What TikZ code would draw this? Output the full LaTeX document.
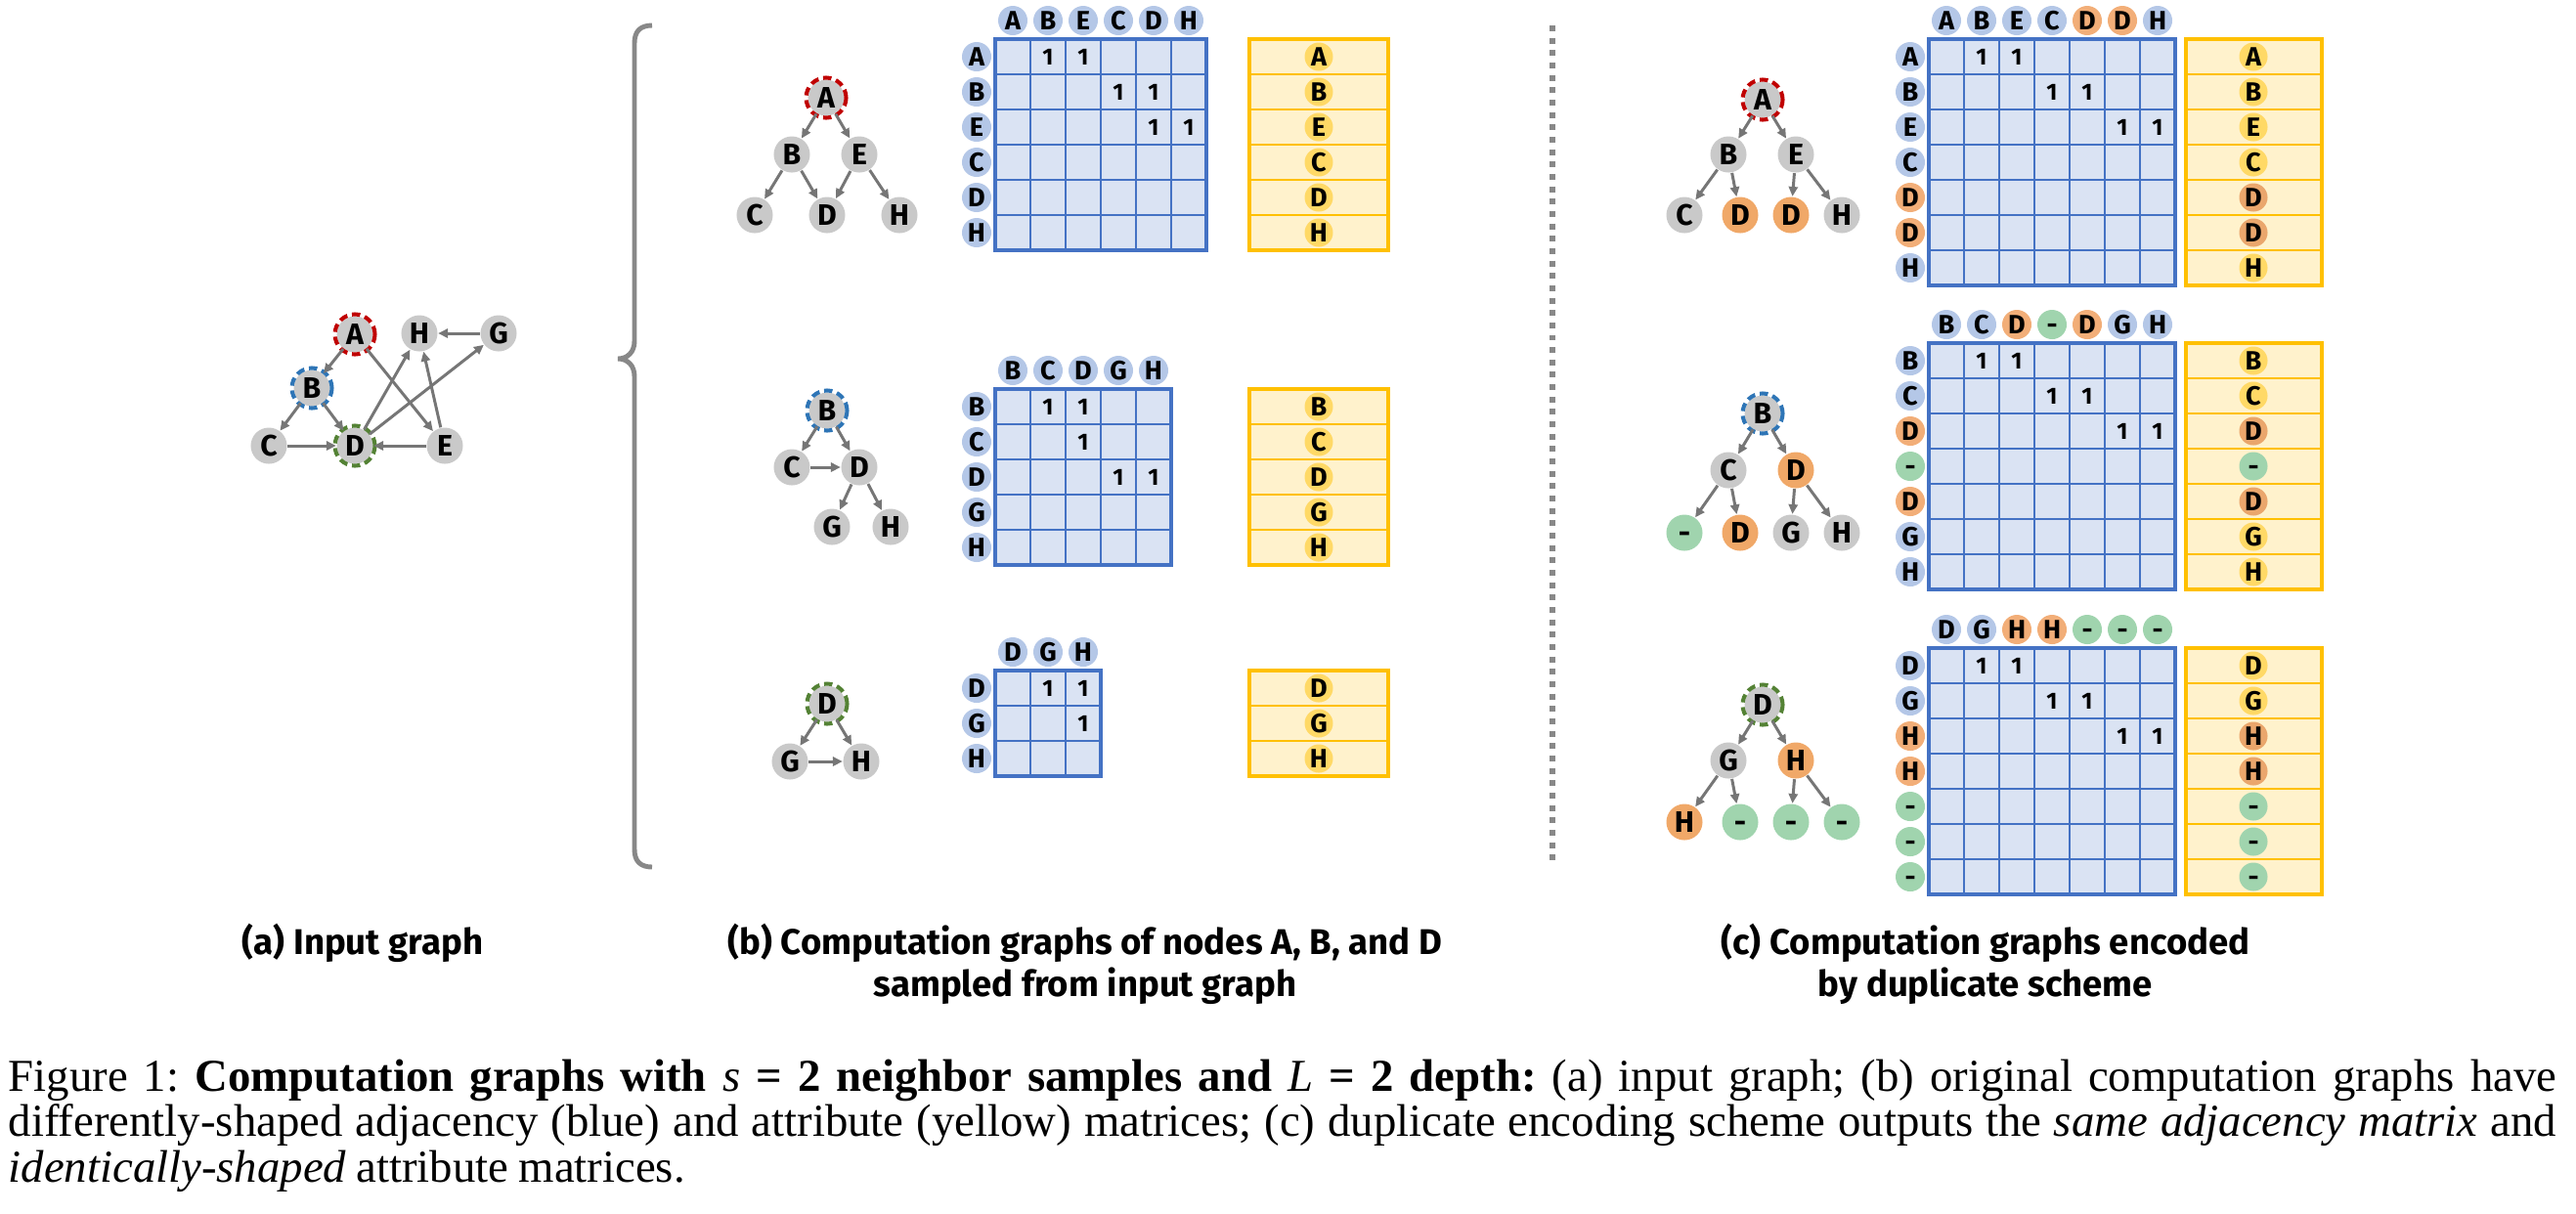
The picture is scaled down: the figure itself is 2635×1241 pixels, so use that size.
\documentclass[tikz,border=0pt]{standalone}
\usepackage{fontspec}
\setmainfont{Liberation Serif}
\newfontfamily\figfont{Fira Sans}
\usetikzlibrary{arrows.meta}
\definecolor{nodegray}{HTML}{C9C9C9}
\definecolor{edgegray}{HTML}{767676}
\definecolor{bracegray}{HTML}{888888}
\definecolor{ringred}{HTML}{C00000}
\definecolor{ringblue}{HTML}{2E75B6}
\definecolor{ringgreen}{HTML}{548235}
\definecolor{hdrblue}{HTML}{B4C7E7}
\definecolor{hdrorange}{HTML}{F2AE78}
\definecolor{matfill}{HTML}{DAE3F3}
\definecolor{matline}{HTML}{4472C4}
\definecolor{attrline}{HTML}{FFC000}
\definecolor{attrfill}{HTML}{FFF2CC}
\definecolor{attryellow}{HTML}{FFD966}
\definecolor{attrorange}{HTML}{EAA66C}
\definecolor{duporange}{HTML}{F0A868}
\definecolor{padgreen}{HTML}{A0D4AE}

\begin{document}
\begin{tikzpicture}[x=0.01cm,y=-0.01cm,
  vtx/.style={circle,fill=nodegray,inner sep=0pt,minimum size=0.37cm,text height=5.9pt,text depth=0pt,font=\figfont\bfseries\fontsize{8.6}{9}\selectfont},
  hdr/.style={circle,fill=hdrblue,inner sep=0pt,minimum size=0.30cm,text height=5.3pt,text depth=0pt,font=\figfont\bfseries\fontsize{7.7}{8}\selectfont},
  attr/.style={hdr,fill=attryellow,minimum size=0.29cm},
  ring/.style={line width=1.15pt,dash pattern=on 2.4pt off 1.4pt},
  edge/.style={draw=edgegray,line width=0.85pt,-{Triangle[length=2.8pt,width=2.6pt]}},
  one/.style={inner sep=0pt,font=\figfont\bfseries\fontsize{6.8}{7}\selectfont},
  lbl/.style={font=\figfont\bfseries\fontsize{10.4}{12.2}\selectfont,align=center},
  caption/.style={inner sep=0pt,text width=26.05cm,align=justify,font=\fontsize{13.3}{13.3}\selectfont},
  brace/.style={draw=bracegray,line width=1.4pt},
  divider/.style={draw=bracegray,line width=1.7pt,dash pattern=on 1.7pt off 1.9pt}]

\useasboundingbox (0,0) rectangle (2635,1241);

% (a) input graph
\node[vtx] (A) at (363,342) {A};
\node[vtx] (H) at (429,341) {H};
\node[vtx] (G) at (510,341) {G};
\node[vtx] (B) at (319,397) {B};
\node[vtx] (C) at (275,456) {C};
\node[vtx] (D) at (363,456) {D};
\node[vtx] (E) at (455,456) {E};
\draw[ring,ringred] (A.center) circle (0.205cm);
\draw[ring,ringblue] (B.center) circle (0.205cm);
\draw[ring,ringgreen] (D.center) circle (0.205cm);
\draw[edge] (A) -- (B);
\draw[edge] (A) -- (E);
\draw[edge] (B) -- (C);
\draw[edge] (B) -- (D);
\draw[edge] (C) -- (D);
\draw[edge] (E) -- (D);
\draw[edge] (E) -- (H);
\draw[edge] (D) -- (H);
\draw[edge] (D) -- (G);
\draw[edge] (G) -- (H);

\draw[brace] (667,26) .. controls (655,26) and (649,32) .. (649,44) -- (649,349)
  .. controls (649,360) and (642,367) .. (632,367) .. controls (642,367) and (649,374) .. (649,385)
  -- (649,869) .. controls (649,881) and (655,887) .. (667,887);
\draw[divider] (1588,26) -- (1588,881);

% (b) computation graphs
\node[vtx] (bAA) at (845,100) {A};
\node[vtx] (bAB) at (810,158) {B};
\node[vtx] (bAE) at (879,158) {E};
\node[vtx] (bAC) at (772,220) {C};
\node[vtx] (bAD) at (846,220) {D};
\node[vtx] (bAH) at (920,220) {H};
\draw[ring,ringred] (bAA.center) circle (0.205cm);
\draw[edge] (bAA) -- (bAB);
\draw[edge] (bAA) -- (bAE);
\draw[edge] (bAB) -- (bAC);
\draw[edge] (bAB) -- (bAD);
\draw[edge] (bAE) -- (bAD);
\draw[edge] (bAE) -- (bAH);

\node[vtx] (bBB) at (846,420) {B};
\node[vtx] (bBC) at (810,478) {C};
\node[vtx] (bBD) at (879,478) {D};
\node[vtx] (bBG) at (851,539) {G};
\node[vtx] (bBH) at (911,539) {H};
\draw[ring,ringblue] (bBB.center) circle (0.205cm);
\draw[edge] (bBB) -- (bBC);
\draw[edge] (bBB) -- (bBD);
\draw[edge] (bBC) -- (bBD);
\draw[edge] (bBD) -- (bBG);
\draw[edge] (bBD) -- (bBH);

\node[vtx] (bDD) at (846,720) {D};
\node[vtx] (bDG) at (808,779) {G};
\node[vtx] (bDH) at (881,779) {H};
\draw[ring,ringgreen] (bDD.center) circle (0.205cm);
\draw[edge] (bDD) -- (bDG);
\draw[edge] (bDD) -- (bDH);
\draw[edge] (bDG) -- (bDH);

% (c) duplicate scheme
\node[vtx] (cAA) at (1803,102) {A};
\node[vtx] (cAB) at (1768,158) {B};
\node[vtx] (cAE) at (1837,158) {E};
\node[vtx] (cAC) at (1723,220) {C};
\node[vtx,fill=duporange] (cAD) at (1780,220) {D};
\node[vtx,fill=duporange] (cAd) at (1832,220) {D};
\node[vtx] (cAH) at (1884,220) {H};
\draw[ring,ringred] (cAA.center) circle (0.205cm);
\draw[edge] (cAA) -- (cAB);
\draw[edge] (cAA) -- (cAE);
\draw[edge] (cAB) -- (cAC);
\draw[edge] (cAB) -- (cAD);
\draw[edge] (cAE) -- (cAd);
\draw[edge] (cAE) -- (cAH);

\node[vtx] (cBB) at (1803,423) {B};
\node[vtx] (cBC) at (1768,481) {C};
\node[vtx,fill=duporange] (cBD) at (1837,481) {D};
\node[vtx,fill=padgreen] (cBp) at (1723,545) {-};
\node[vtx,fill=duporange] (cBd) at (1780,545) {D};
\node[vtx] (cBG) at (1832,545) {G};
\node[vtx] (cBH) at (1884,545) {H};
\draw[ring,ringblue] (cBB.center) circle (0.205cm);
\draw[edge] (cBB) -- (cBC);
\draw[edge] (cBB) -- (cBD);
\draw[edge] (cBC) -- (cBp);
\draw[edge] (cBC) -- (cBd);
\draw[edge] (cBD) -- (cBG);
\draw[edge] (cBD) -- (cBH);

\node[vtx] (cDD) at (1803,721) {D};
\node[vtx] (cDG) at (1768,778) {G};
\node[vtx,fill=duporange] (cDH) at (1837,778) {H};
\node[vtx,fill=duporange] (cDh) at (1723,841) {H};
\node[vtx,fill=padgreen] (cDp) at (1780,841) {-};
\node[vtx,fill=padgreen] (cDq) at (1832,841) {-};
\node[vtx,fill=padgreen] (cDr) at (1884,841) {-};
\draw[ring,ringgreen] (cDD.center) circle (0.205cm);
\draw[edge] (cDD) -- (cDG);
\draw[edge] (cDD) -- (cDH);
\draw[edge] (cDG) -- (cDh);
\draw[edge] (cDG) -- (cDp);
\draw[edge] (cDH) -- (cDq);
\draw[edge] (cDH) -- (cDr);

% adjacency and attribute matrices
\foreach \mx/\my/\n in {1018/40/6,1018/398/5,1018/686/3,1973/40/7,1973/351/7,1973/663/7}{
  \fill[matfill] (\mx,\my) rectangle ++({36*\n},{36*\n});
  \foreach \k in {1,...,\n}{
    \draw[matline,line width=0.6pt] ({\mx+36*\k},\my) -- ++(0,{36*\n});
    \draw[matline,line width=0.6pt] (\mx,{\my+36*\k}) -- ++({36*\n},0);
  }
  \draw[matline,line width=1.1pt] (\mx,\my) rectangle ++({36*\n},{36*\n});
}
\foreach \ax/\ay/\aw/\n in {1278/40/142/6,1278/398/142/5,1278/686/142/3,2236/40/139/7,2236/351/139/7,2236/663/139/7}{
  \fill[attrfill] (\ax,\ay) rectangle ++(\aw,{36*\n});
  \foreach \k in {1,...,\n}
    \draw[attrline,line width=0.7pt] (\ax,{\ay+36*\k}) -- ++(\aw,0);
  \draw[attrline,line width=1.2pt] (\ax,\ay) rectangle ++(\aw,{36*\n});
}

\foreach \t [count=\i] in {A,B,E,C,D,H}{
  \node[hdr] (bAc\i) at ({1000+36*\i},21) {\t};
  \node[hdr] (bAr\i) at (999,{22+36*\i}) {\t};
  \node[attr] (bAy\i) at (1349,{22+36*\i}) {\t};
}
\foreach \r/\c in {1/2,1/3,2/4,2/5,3/5,3/6}
  \node[one] (bA\r\c) at ({1000+36*\c},{22+36*\r}) {1};

\foreach \t [count=\i] in {B,C,D,G,H}{
  \node[hdr] (bBc\i) at ({1000+36*\i},379) {\t};
  \node[hdr] (bBr\i) at (999,{380+36*\i}) {\t};
  \node[attr] (bBy\i) at (1349,{380+36*\i}) {\t};
}
\foreach \r/\c in {1/2,1/3,2/3,3/4,3/5}
  \node[one] (bB\r\c) at ({1000+36*\c},{380+36*\r}) {1};

\foreach \t [count=\i] in {D,G,H}{
  \node[hdr] (bDc\i) at ({1000+36*\i},667) {\t};
  \node[hdr] (bDr\i) at (999,{668+36*\i}) {\t};
  \node[attr] (bDy\i) at (1349,{668+36*\i}) {\t};
}
\foreach \r/\c in {1/2,1/3,2/3}
  \node[one] (bD\r\c) at ({1000+36*\c},{668+36*\r}) {1};

\foreach \t/\hc/\yc [count=\i] in {A/hdrblue/attryellow,B/hdrblue/attryellow,E/hdrblue/attryellow,C/hdrblue/attryellow,D/hdrorange/attrorange,D/hdrorange/attrorange,H/hdrblue/attryellow}{
  \node[hdr,fill=\hc] (cAc\i) at ({1955+36*\i},21) {\t};
  \node[hdr,fill=\hc] (cAr\i) at (1954,{22+36*\i}) {\t};
  \node[attr,fill=\yc] (cAy\i) at (2305,{22+36*\i}) {\t};
}
\foreach \t/\hc/\yc [count=\i] in {B/hdrblue/attryellow,C/hdrblue/attryellow,D/hdrorange/attrorange,-/padgreen/padgreen,D/hdrorange/attrorange,G/hdrblue/attryellow,H/hdrblue/attryellow}{
  \node[hdr,fill=\hc] (cBc\i) at ({1955+36*\i},332) {\t};
  \node[hdr,fill=\hc] (cBr\i) at (1954,{333+36*\i}) {\t};
  \node[attr,fill=\yc] (cBy\i) at (2305,{333+36*\i}) {\t};
}
\foreach \t/\hc/\yc [count=\i] in {D/hdrblue/attryellow,G/hdrblue/attryellow,H/hdrorange/attrorange,H/hdrorange/attrorange,-/padgreen/padgreen,-/padgreen/padgreen,-/padgreen/padgreen}{
  \node[hdr,fill=\hc] (cDc\i) at ({1955+36*\i},644) {\t};
  \node[hdr,fill=\hc] (cDr\i) at (1954,{645+36*\i}) {\t};
  \node[attr,fill=\yc] (cDy\i) at (2305,{645+36*\i}) {\t};
}
\foreach \r/\c in {1/2,1/3,2/4,2/5,3/6,3/7}{
  \node[one] (cA\r\c) at ({1955+36*\c},{22+36*\r}) {1};
  \node[one] (cB\r\c) at ({1955+36*\c},{333+36*\r}) {1};
  \node[one] (cD\r\c) at ({1955+36*\c},{645+36*\r}) {1};
}

% sub-captions
\node[lbl] (capa) at (371,965) {(a) Input graph};
\node[lbl] (capb) at (1110,986) {(b) Computation graphs of nodes A, B, and D\\sampled from input graph};
\node[lbl] (capc) at (2031,986) {(c) Computation graphs encoded\\by duplicate scheme};

\node[caption,anchor=north west] (fig) at (8,1083) {\frenchspacing\spaceskip=0.22em plus 0.12em minus 0.08em\relax
Figure 1: \textbf{Computation graphs with {\mdseries\itshape s} = 2 neighbor samples and {\mdseries\itshape L} = 2 depth:} (a) input graph; (b) original computation graphs have\linebreak
differently-shaped adjacency (blue) and attribute (yellow) matrices; (c) duplicate encoding scheme outputs the \textit{same adjacency matrix} and\linebreak
\textit{identically-shaped} attribute matrices.};
\end{tikzpicture}
\end{document}
